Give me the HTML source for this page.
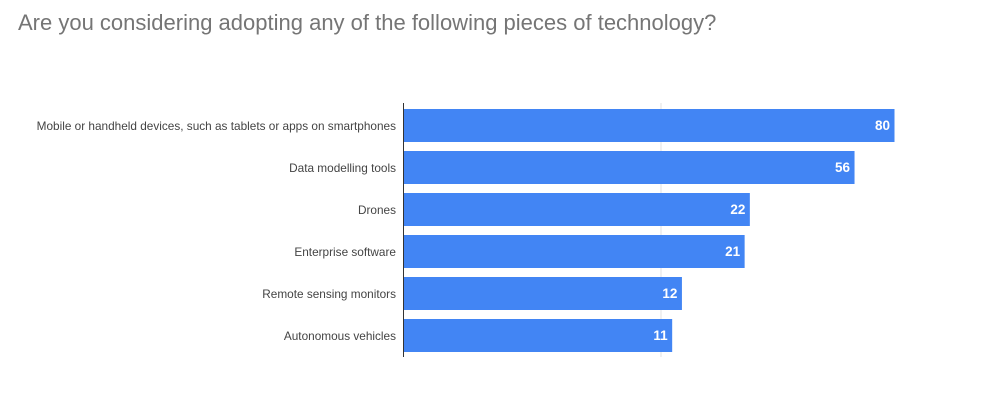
<!DOCTYPE html>
<html><head><meta charset="utf-8"><style>
body{margin:0;background:#fff;font-family:"Liberation Sans",Arial,sans-serif;}
svg{display:block}
</style></head><body>
<svg id="chart" width="1000" height="405">
<text x="18" y="30" font-size="22" fill="#757575">Are you considering adopting any of the following pieces of technology?</text>
<g id="grid"></g><g id="bars"></g>
<line x1="403.5" y1="103" x2="403.5" y2="357" stroke="#333" stroke-width="1"/>
</svg>
<script>
const categories=["Mobile or handheld devices, such as tablets or apps on smartphones","Data modelling tools","Drones","Enterprise software","Remote sensing monitors","Autonomous vehicles"];
const values=[80,56,22,21,12,11];
const gridTicks=[10];
const ns="http://www.w3.org/2000/svg";
const x0=403,pxPerDecade=258;
function xScale(v){return x0+Math.log10(v)*pxPerDecade;}
function yScale(i){return 109+i*42;}
const g=document.getElementById('grid'),b=document.getElementById('bars');
gridTicks.forEach(t=>{const l=document.createElementNS(ns,'line');
l.setAttribute('x1',xScale(t));l.setAttribute('x2',xScale(t));l.setAttribute('y1',103);l.setAttribute('y2',357);
l.setAttribute('stroke','#e0e0e0');


g.appendChild(l);});
categories.forEach((c,i)=>{const y=yScale(i),w=xScale(values[i])-x0;
const r=document.createElementNS(ns,'rect');r.setAttribute('x',x0+0.5);r.setAttribute('y',y);r.setAttribute('width',w);r.setAttribute('height',33);r.setAttribute('fill','#4285f4');


b.appendChild(r);
const t=document.createElementNS(ns,'text');t.setAttribute('x',396);t.setAttribute('y',y+21);t.setAttribute('text-anchor','end');t.setAttribute('font-size','11.8');t.setAttribute('fill','#444');t.textContent=c;


b.appendChild(t);
const v=document.createElementNS(ns,'text');v.setAttribute('x',x0+w-4);v.setAttribute('y',y+21);v.setAttribute('text-anchor','end');v.setAttribute('font-size','13.5');v.setAttribute('font-weight','bold');v.setAttribute('fill','#fff');v.textContent=values[i];


b.appendChild(v);});
</script>
</body></html>
